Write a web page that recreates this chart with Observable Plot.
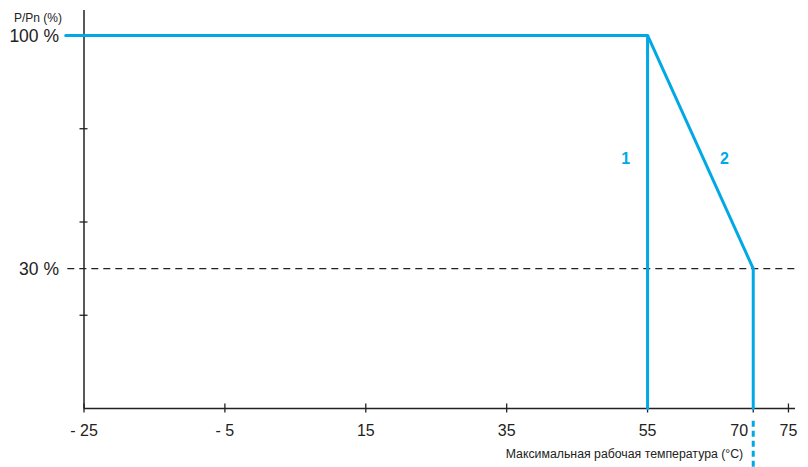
<!DOCTYPE html>
<html>
<head>
<meta charset="utf-8">
<script src="https://cdn.jsdelivr.net/npm/d3@7"></script>
<script src="https://cdn.jsdelivr.net/npm/@observablehq/plot@0.6"></script>
<style>
  html, body { margin: 0; padding: 0; background: #fff; }
  #chart svg { display: block; }
</style>
</head>
<body>
<div id="chart"></div>
<script>
// --- data ---
const tempTicks = [-25, -5, 15, 35, 55, 70, 75];
const tempTickLabels = ["- 25", "- 5", "15", "35", "55", "70", "75"];
const powerMinorTicks = [16, 44, 72];
const powerLevels = [100, 30];
const powerLevelLabels = ["100 %", "30 %"];
// curve 1: full power until 55 °C then cut
const curve1Temp = [-27.6, 55, 55];
const curve1Power = [100, 100, -12];
// curve 2: derating from 55 °C to 70 °C down to 30 %
const curve2Temp = [55, 70, 70];
const curve2Power = [100, 30, -12];
const curveLabels = ["1", "2"];
const curveLabelTemp = [51.9, 65.9];
const curveLabelPower = [63, 63];
const maxTemp = 70;
const yTitle = "P/Pn (%)";
const xTitle = "Максимальная рабочая температура (°C)";

const blue = "#00a9e6";
const c1 = curve1Temp.map((t, i) => ({t, p: curve1Power[i]}));
const c2 = curve2Temp.map((t, i) => ({t, p: curve2Power[i]}));
const lbl = curveLabels.map((s, i) => ({s, t: curveLabelTemp[i], p: curveLabelPower[i]}));
const labelMap = new Map(tempTicks.map((t, i) => [t, tempTickLabels[i]]));
const levelMap = new Map(powerLevels.map((p, i) => [p, powerLevelLabels[i]]));
const mainTicks = tempTicks.filter(t => t !== maxTemp);

const chart = Plot.plot({
  width: 808,
  height: 467,
  marginLeft: 83.5,
  marginRight: 13,
  marginTop: 10,
  marginBottom: 59,
  style: {fontFamily: "'Liberation Sans', Arial, sans-serif", background: "#fff", overflow: "visible"},
  x: {domain: [-25, 76], axis: null},
  y: {domain: [-12, 107.5], axis: null},
  marks: [
    // 30 % dashed guide
    Plot.ruleY([30], {x1: -27.3, x2: 76, stroke: "#222", strokeWidth: 1.3, strokeDasharray: "7,5", clip: false}),
    // axes lines
    Plot.ruleX([-25], {y1: -12, y2: 107.5, stroke: "#222", strokeWidth: 1.5}),
    Plot.ruleY([-12], {x1: -25, x2: 76, stroke: "#222", strokeWidth: 1.5}),
    // x ticks crossing the axis
    Plot.axisX({ticks: tempTicks, tickSize: 9, dy: -4.5, text: null, label: null, stroke: "#222", strokeWidth: 1.3}),
    Plot.axisX({ticks: mainTicks, tickSize: 0, tickPadding: 16, fontSize: 16, fill: "#222", label: null,
      tickFormat: d => labelMap.get(d)}),
    Plot.axisX({ticks: [maxTemp], tickSize: 0, tickPadding: 16, fontSize: 16, fill: "#222", label: null,
      dx: -14, tickFormat: d => labelMap.get(d)}),
    // y minor ticks crossing the axis
    Plot.axisY({ticks: powerMinorTicks, tickSize: 8, dx: 4, text: null, label: null, stroke: "#222", strokeWidth: 1.3}),
    Plot.axisY({ticks: powerLevels, tickSize: 0, tickPadding: 25, fontSize: 17.5, fill: "#222", label: null,
      dy: 1, tickFormat: d => levelMap.get(d)}),
    // curves
    Plot.line(c1, {x: "t", y: "p", stroke: blue, strokeWidth: 3, clip: false, strokeLinejoin: "miter"}),
    Plot.line(c2, {x: "t", y: "p", stroke: blue, strokeWidth: 3, clip: false, strokeLinejoin: "miter"}),
    // dashed marker below axis at max temperature
    Plot.ruleX([maxTemp], {y1: -15.8, y2: -30, stroke: blue, strokeWidth: 3, strokeDasharray: "6,4", clip: false}),
    // curve labels
    Plot.text(lbl, {x: "t", y: "p", text: "s", fill: blue, fontWeight: "bold", fontSize: 16}),
    // titles
    Plot.text([yTitle], {frameAnchor: "top-left", dx: -22, dy: 3, textAnchor: "end", fontSize: 12, fill: "#222"}),
    Plot.text([xTitle], {x: maxTemp, y: -12, dx: -10, dy: 46, textAnchor: "end", fontSize: 12.3,
      fill: "#222", fontFamily: "'Liberation Sans Narrow', 'Arial Narrow', sans-serif"})
  ]
});
document.getElementById("chart").appendChild(chart);
</script>
</body>
</html>
